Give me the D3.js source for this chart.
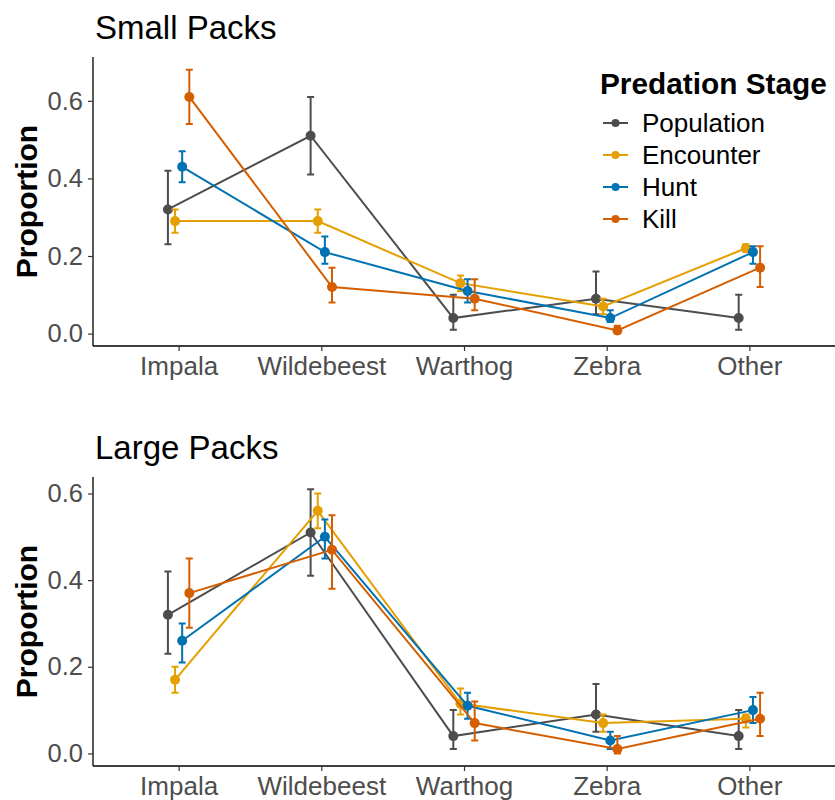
<!DOCTYPE html>
<html>
<head>
<meta charset="utf-8">
<script src="https://cdn.jsdelivr.net/npm/d3@7"></script>
<style>
  body { margin: 0; background: #fff; }
  svg text { font-family: "Liberation Sans", Arial, sans-serif; }
</style>
</head>
<body>
<div id="chart"></div>
<script>
// Prey categories and predation stages
const categories = ['Impala', 'Wildebeest', 'Warthog', 'Zebra', 'Other'];
const stages = ['Population', 'Encounter', 'Hunt', 'Kill'];
const stageColors = ['#4d4d4d', '#e69f00', '#0072b2', '#d55e00'];
const yTicks = [0.0, 0.2, 0.4, 0.6];

// [proportion, lower, upper] per category
const populationVals = [[0.32, 0.23, 0.42], [0.51, 0.41, 0.61], [0.04, 0.01, 0.10], [0.09, 0.05, 0.16], [0.04, 0.01, 0.10]];

const smallEncounter = [[0.29, 0.26, 0.32], [0.29, 0.26, 0.32], [0.13, 0.11, 0.15], [0.07, 0.05, 0.09], [0.22, 0.21, 0.23]];
const smallHunt = [[0.43, 0.39, 0.47], [0.21, 0.18, 0.25], [0.11, 0.08, 0.14], [0.04, 0.03, 0.06], [0.21, 0.18, 0.225]];
const smallKill = [[0.61, 0.54, 0.68], [0.12, 0.08, 0.17], [0.09, 0.06, 0.14], [0.008, 0.0, 0.02], [0.17, 0.12, 0.225]];

const largeEncounter = [[0.17, 0.14, 0.20], [0.56, 0.52, 0.60], [0.115, 0.09, 0.15], [0.07, 0.05, 0.09], [0.08, 0.06, 0.09]];
const largeHunt = [[0.26, 0.21, 0.30], [0.50, 0.45, 0.54], [0.11, 0.08, 0.14], [0.03, 0.01, 0.05], [0.10, 0.07, 0.13]];
const largeKill = [[0.37, 0.29, 0.45], [0.47, 0.38, 0.55], [0.07, 0.03, 0.12], [0.01, 0.0, 0.04], [0.08, 0.04, 0.14]];

const W = 835, H = 800;
const svg = d3.select('#chart').append('svg').attr('width', W).attr('height', H);

// ggplot-like discrete expansion: 0.6 units each side
const xPos = d3.scalePoint().domain(categories).range([93 + 0.6 * 742 / 5.2, 835 - 0.6 * 742 / 5.2]);
const dodge = d3.scalePoint().domain(stages).range([-10.7, 10.7]);
const color = d3.scaleOrdinal().domain(stages).range(stageColors);

function drawPanel(title, top, bottom, yDomain, series) {
  const y = d3.scaleLinear().domain(yDomain).range([bottom, top]);
  const g = svg.append('g');

  g.append('text').attr('x', 95).attr('y', top - 18.5)
    .attr('font-size', '33px').attr('fill', '#000').text(title);

  // y axis
  const yAxis = g.append('g').attr('transform', 'translate(93,0)')
    .call(d3.axisLeft(y).tickValues(yTicks).tickFormat(d3.format('.1f')).tickSize(5).tickPadding(5));
  yAxis.select('.domain').attr('stroke', '#000').attr('stroke-width', 1.3).attr('d', `M0,${top}V${bottom}`);
  yAxis.selectAll('.tick line').attr('stroke', '#333').attr('stroke-width', 1.2);
  yAxis.selectAll('.tick text').attr('font-size', '25.5px').attr('fill', '#4d4d4d');

  // x axis
  const xAxis = g.append('g').attr('transform', `translate(0,${bottom})`)
    .call(d3.axisBottom(xPos).tickSize(5).tickPadding(6));
  xAxis.select('.domain').attr('stroke', '#000').attr('stroke-width', 1.3).attr('d', 'M93,0H835');
  xAxis.selectAll('.tick line').attr('stroke', '#333').attr('stroke-width', 1.2);
  xAxis.selectAll('.tick text').attr('font-size', '26px').attr('fill', '#4d4d4d');

  // y label
  g.append('text')
    .attr('transform', `translate(37,${(top + bottom) / 2}) rotate(-90)`)
    .attr('text-anchor', 'middle').attr('font-size', '30px').attr('font-weight', 'bold')
    .attr('fill', '#000').text('Proportion');

  series.forEach((vals, si) => {
    const stage = stages[si];
    const c = color(stage);
    const px = i => xPos(categories[i]) + dodge(stage);

    const line = d3.line().x((d, i) => px(i)).y(d => y(d[0]));
    g.append('path').datum(vals)
      .attr('fill', 'none').attr('stroke', c).attr('stroke-width', 2)
      .attr('d', line);

    vals.forEach((d, i) => {
      const cx = px(i);
      g.append('path')
        .attr('d', `M${cx - 3.5},${y(d[2])}H${cx + 3.5}M${cx},${y(d[2])}V${y(d[1])}M${cx - 3.5},${y(d[1])}H${cx + 3.5}`)
        .attr('fill', 'none').attr('stroke', c).attr('stroke-width', 2);
      g.append('circle').attr('cx', cx).attr('cy', y(d[0])).attr('r', 5).attr('fill', c);
    });
  });
}

drawPanel('Small Packs', 57, 346, [-0.032, 0.713], [populationVals, smallEncounter, smallHunt, smallKill]);
drawPanel('Large Packs', 477, 766, [-0.029, 0.638], [populationVals, largeEncounter, largeHunt, largeKill]);

// legend
const legend = svg.append('g').attr('transform', 'translate(600,0)');
legend.append('text').attr('x', 0).attr('y', 94)
  .attr('font-size', '29.8px').attr('font-weight', 'bold').attr('fill', '#000').text('Predation Stage');
stages.forEach((s, i) => {
  const ly = 123 + i * 32;
  legend.append('line').attr('x1', 3).attr('x2', 28).attr('y1', ly).attr('y2', ly)
    .attr('stroke', color(s)).attr('stroke-width', 2);
  legend.append('circle').attr('cx', 15.5).attr('cy', ly).attr('r', 4).attr('fill', color(s));
  legend.append('text').attr('x', 42).attr('y', ly + 9)
    .attr('font-size', '26px').attr('fill', '#000').text(s);
});
</script>
</body>
</html>
